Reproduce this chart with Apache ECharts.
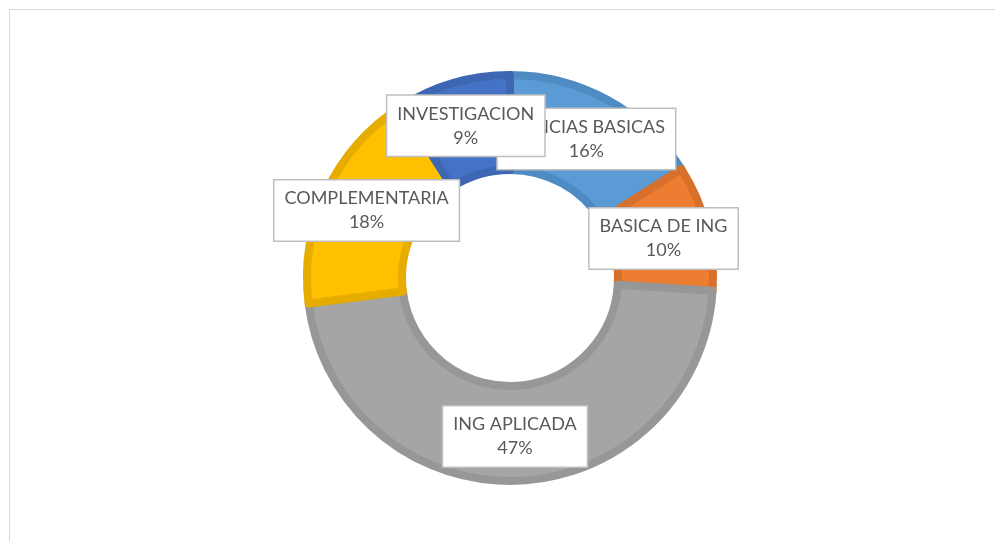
<!DOCTYPE html>
<html>
<head>
<meta charset="utf-8">
<script src="https://cdn.jsdelivr.net/npm/echarts@6/dist/echarts.min.js"></script>
<style>
html, body { margin: 0; padding: 0; background: #fff; }
#chart { width: 995px; height: 541px; }
</style>
</head>
<body>
<div id="chart"></div>
<script>
// áreas del plan de estudios
const categories = ['CIENCIAS BASICAS', 'BASICA DE ING', 'ING APLICADA', 'COMPLEMENTARIA', 'INVESTIGACION']
const values = [16, 10, 47, 18, 9]
const fillColors = ['#5b9bd5', '#ed7d31', '#a5a5a5', '#ffc000', '#4472c4']
const borderColors = ['#4e8bc3', '#d6702b', '#979797', '#e6ad00', '#3d67b3']

const myChart = echarts.init(document.getElementById('chart'))
const option = {
  animation: false,
  graphic: [{
    type: 'rect',
    shape: { x: 9.5, y: 9.5, width: 1000, height: 600 },
    style: { fill: 'none', stroke: '#d9d9d9', lineWidth: 1 }
  }],
  series: [{
    type: 'pie',
    center: [510, 278],
    radius: [108, 203],
    startAngle: 90,
    clockwise: true,
    avoidLabelOverlap: false,
    minShowLabelAngle: 0,
    labelLayout: { hideOverlap: false },
    data: categories.map(function(name, i) {
      return {
        name: name,
        value: values[i],
        itemStyle: { color: fillColors[i], borderColor: borderColors[i] }
      }
    }),
    itemStyle: { borderWidth: 8 },
    label: {
      show: true,
      position: 'inside',
      formatter: '{b}\n{d}%',
      fontFamily: 'Lato',
      fontSize: 18,
      lineHeight: 24,
      color: '#595959',
      backgroundColor: '#ffffff',
      borderColor: '#bfbfbf',
      borderWidth: 1.5,
      padding: [6, 10],
      align: 'center'
    },
    labelLine: { show: false },
    emphasis: { disabled: true }
  }]
}
myChart.setOption(option)
window.addEventListener('resize', function() {
  myChart.resize()
})
</script>
</body>
</html>
